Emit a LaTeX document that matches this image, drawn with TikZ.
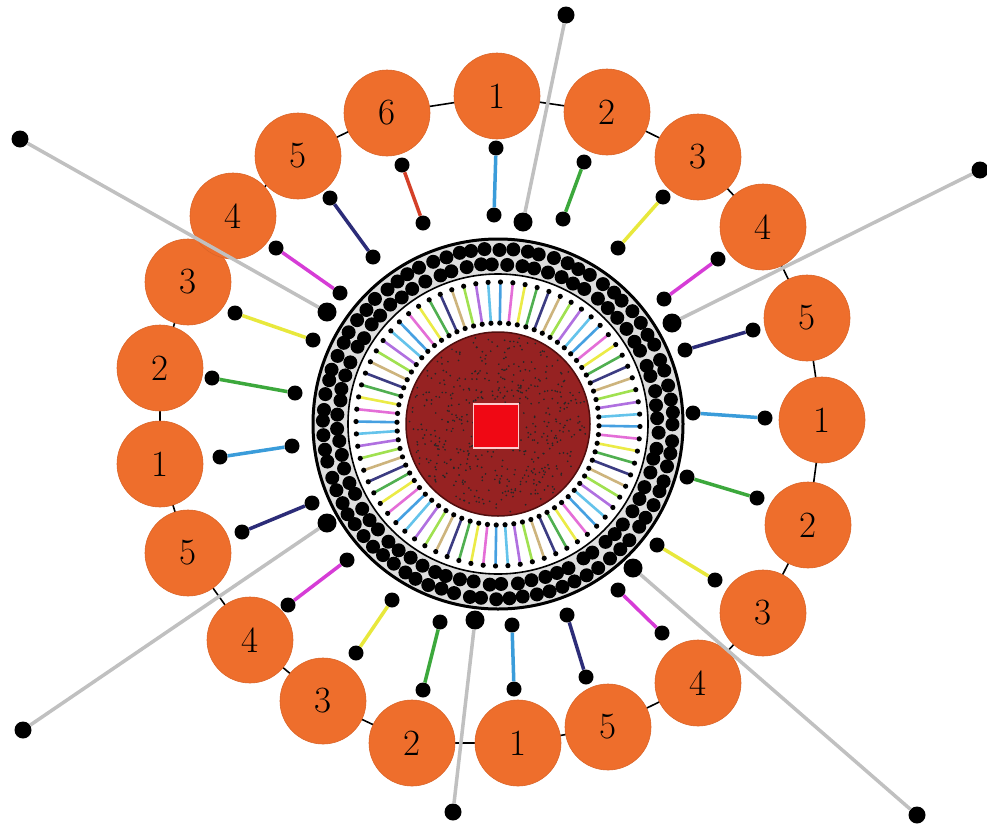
\documentclass[tikz,border=0pt]{standalone}
\usetikzlibrary{calc}
\definecolor{orng}{RGB}{238,110,44}
\definecolor{core}{RGB}{150,34,34}
\definecolor{coreedge}{RGB}{80,14,14}
\definecolor{sqred}{RGB}{240,8,20}
\definecolor{bandgrey}{RGB}{222,222,222}
\definecolor{glink}{RGB}{192,192,192}
\definecolor{s1}{RGB}{58,156,218}
\definecolor{s2}{RGB}{60,168,60}
\definecolor{s3}{RGB}{232,232,60}
\definecolor{s4}{RGB}{214,60,214}
\definecolor{s5}{RGB}{44,44,120}
\definecolor{s6}{RGB}{212,64,40}
\definecolor{m0}{RGB}{70,160,225}
\definecolor{m1}{RGB}{228,110,215}
\definecolor{m2}{RGB}{235,235,70}
\definecolor{m3}{RGB}{80,175,80}
\definecolor{m4}{RGB}{60,60,130}
\definecolor{m5}{RGB}{205,180,125}
\definecolor{m6}{RGB}{160,225,80}
\definecolor{m7}{RGB}{176,112,224}
\definecolor{m8}{RGB}{100,195,235}
\tikzset{
  bead/.style={circle, fill=orng, draw=orng!92!black, line width=0.6pt,
    minimum size=86pt, inner sep=0pt, font=\fontsize{37}{37}\selectfont},
  bdot/.style={circle, fill=black, minimum size=15pt, inner sep=0pt},
  edot/.style={circle, fill=black, minimum size=19pt, inner sep=0pt},
  chainlink/.style={line width=1.6pt, black},
  stick/.style={line width=3.5pt},
  greystick/.style={line width=3.5pt, glink},
  mstick/.style={line width=2.6pt},
}
\begin{document}
\begin{tikzpicture}[x=1pt,y=-1pt]
\useasboundingbox (0,0) rectangle (987,830);
\fill[white] (0,0) rectangle (987,830);
\coordinate (C) at (498,424);

% ---------- central body ----------
\fill[bandgrey] (C) circle (184);
\pgfmathsetseed{3}
\foreach \i in {0,...,79}{
  \pgfmathsetmacro\ang{\i*4.5+1.2*rnd}
  \pgfmathsetmacro\rad{174+1.5*rnd}
  \fill[black] (C) ++(\ang:\rad) circle (7);
}
\foreach \i in {0,...,71}{
  \pgfmathsetmacro\ang{\i*5+2.5+1.5*rnd}
  \pgfmathsetmacro\rad{159+2*rnd}
  \fill[black] (C) ++(\ang:\rad) circle (7);
}
\draw[line width=3pt] (C) circle (185);
\fill[white] (C) circle (150);
\draw[line width=1.6pt] (C) circle (150);

\foreach \i in {0,...,71}{
  \pgfmathsetmacro\ang{\i*5+1}
  \pgfmathtruncatemacro\k{mod(\i,9)}
  \draw[mstick, draw=m\k] (C) ++(\ang:101) coordinate (ia) -- ++(\ang:41) coordinate (ib);
  \fill (ia) circle (2.6);
  \fill (ib) circle (2.6);
}

\fill[core] (C) circle (92);
\pgfmathsetseed{7}
\foreach \k in {1,...,520}{
  \pgfmathsetmacro\rr{89*sqrt(rnd)}
  \pgfmathsetmacro\aa{360*rnd}
  \fill[black!85] (C) ++(\aa:\rr) circle (0.95);
}
\draw[coreedge, line width=1.5pt] (C) circle (92);
\node[draw=red!20!white, line width=1.5pt, fill=sqred, minimum width=45pt,
  minimum height=44pt, inner sep=0pt] (sq) at (496,426) {};

% ---------- chain of beads ----------
\foreach \i/\x/\y in {1/497/96, 2/607/112, 3/698/157, 4/763/227, 5/807/318,
  6/822/420, 7/808/525, 8/763/613, 9/698/683, 10/608/727, 11/518/743,
  12/412/743, 13/323/701, 14/250/640, 15/188/553, 16/160/464, 17/160/368,
  18/188/282, 19/233/216, 20/298/156, 21/387/113}
  \coordinate (p\i) at (\x,\y);
\foreach \i [evaluate=\i as \j using {int(mod(\i,21)+1)}] in {1,...,21}
  \draw[chainlink] (p\i) -- (p\j);
\foreach \i/\t in {1/1, 2/2, 3/3, 4/4, 5/5, 6/1, 7/2, 8/3, 9/4, 10/5, 11/1,
  12/2, 13/3, 14/4, 15/5, 16/1, 17/2, 18/3, 19/4, 20/5, 21/6}
  \node[bead] (b\i) at (p\i) {\t};

% ---------- sticks from beads ----------
\foreach \i/\ox/\oy/\ix/\iy/\c in {
  1/496/148/494/215/s1, 2/584/162/563/219/s2, 3/663/197/618/248/s3,
  4/718/259/664/299/s4, 5/753/330/685/350/s5, 6/765/418/693/413/s1,
  7/757/498/687/477/s2, 8/715/580/657/545/s3, 9/662/633/618/590/s4,
  10/586/677/567/615/s5, 11/514/689/512/625/s1, 12/423/690/440/622/s2,
  13/356/653/392/600/s3, 14/288/605/347/560/s4, 15/242/532/312/503/s5,
  16/220/457/292/446/s1, 17/212/378/295/393/s2, 18/235/313/313/340/s3,
  19/276/248/340/293/s4, 20/330/198/373/257/s5, 21/402/165/423/223/s6}{
  \node[bdot] (o\i) at (\ox,\oy) {};
  \node[bdot] (n\i) at (\ix,\iy) {};
  \draw[stick, draw=\c] (o\i) -- (n\i);
}

% ---------- long grey rods ----------
\foreach \i/\ox/\oy/\ix/\iy in {
  1/566/15/523/222, 2/20/139/327/312, 3/980/170/672/323,
  4/23/730/327/523, 5/453/812/475/620, 6/917/815/633/568}{
  \node[edot, minimum size=17pt] (go\i) at (\ox,\oy) {};
  \node[edot] (gi\i) at (\ix,\iy) {};
  \draw[greystick] (go\i) -- (gi\i);
}
\end{tikzpicture}
\end{document}
